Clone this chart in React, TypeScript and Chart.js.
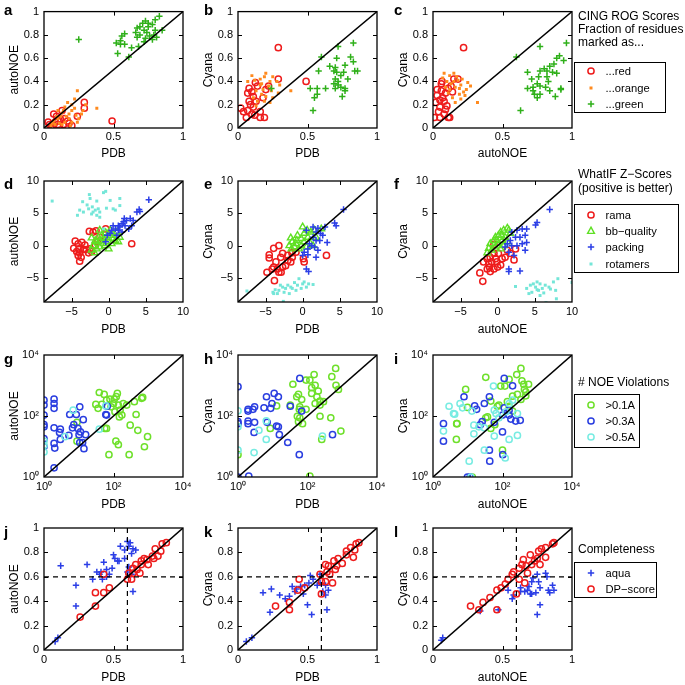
import React, { useEffect, useRef } from "react";
import { Chart, registerables } from "chart.js";
Chart.register(...registerables);

const FONT = '"Liberation Sans", Arial, Helvetica, sans-serif';
Chart.defaults.font.family = FONT;

type Pt = [number, number];

// ---------- colours ----------
const RED = "#ee1c1c";
const ORANGE = "#ff8a1e";
const GREEN = "#2fb01a";
const LIME = "#5fe024";
const BLUE = "#2b3ee6";
const CYAN = "#74e6d8";

// ---------- axis ranges / ticks ----------
const UNIT_RANGE: Pt = [0, 1];
const Z_RANGE: Pt = [-8.7, 10];
const LOG_RANGE: Pt = [1, 10000];
const UNIT_TICKS_X = [0, 0.5, 1];
const UNIT_TICKS_Y = [0, 0.2, 0.4, 0.6, 0.8, 1];
const Z_TICKS = [-5, 0, 5, 10];
const LOG_TICKS = [1, 100, 10000];
const COMPLETENESS_CUTOFF = 0.6;

// ---------- row 1: CING ROG scores ----------
const aRed: Pt[] = [[0.49,0.06],[0.29,0.22],[0.29,0.17],[0.24,0.10],[0.18,0.04],[0.13,0.15],[0.10,0.03],[0.06,0.02],[0.03,0.05],[0.08,0.05],[0.12,0.07],[0.05,0.00],[0.15,0.08],[0.20,0.02],[0.09,0.10],[0.07,0.12],[0.10,0.06],[0.14,0.03],[0.11,0.01],[0.04,0.03],[0.17,0.06]];
const aOrange: Pt[] = [[0.24,0.32],[0.38,0.17],[0.30,0.20],[0.20,0.20],[0.22,0.17],[0.15,0.18],[0.18,0.12],[0.12,0.10],[0.10,0.08],[0.25,0.08],[0.15,0.05],[0.20,0.05],[0.08,0.03],[0.05,0.02],[0.13,0.13],[0.17,0.22],[0.27,0.12],[0.10,0.15],[0.07,0.06],[0.22,0.25],[0.13,0.03],[0.18,0.08],[0.20,0.15],[0.16,0.10],[0.28,0.15],[0.11,0.04],[0.23,0.11],[0.09,0.10],[0.14,0.15],[0.19,0.02],[0.24,0.05],[0.06,0.04]];
const aGreen: Pt[] = [[0.83,0.96],[0.80,0.93],[0.73,0.92],[0.75,0.90],[0.78,0.89],[0.71,0.90],[0.67,0.86],[0.69,0.87],[0.75,0.87],[0.72,0.84],[0.74,0.82],[0.80,0.84],[0.85,0.84],[0.66,0.82],[0.58,0.81],[0.69,0.80],[0.76,0.79],[0.81,0.78],[0.78,0.76],[0.73,0.77],[0.67,0.78],[0.56,0.79],[0.55,0.75],[0.52,0.73],[0.55,0.72],[0.58,0.72],[0.63,0.69],[0.68,0.70],[0.53,0.64],[0.61,0.61],[0.25,0.76],[0.72,0.74],[0.79,0.80]];

const bRed: Pt[] = [[0.29,0.69],[0.29,0.42],[0.49,0.40],[0.125,0.39],[0.02,0.17],[0.06,0.09],[0.16,0.09],[0.19,0.09],[0.16,0.14],[0.08,0.23],[0.10,0.31],[0.18,0.26],[0.11,0.18],[0.07,0.30],[0.13,0.23],[0.10,0.12],[0.07,0.15],[0.20,0.33],[0.11,0.27],[0.09,0.20],[0.22,0.36],[0.04,0.14],[0.14,0.36],[0.12,0.11],[0.08,0.34]];
const bOrange: Pt[] = [[0.10,0.45],[0.20,0.47],[0.19,0.44],[0.23,0.40],[0.28,0.40],[0.38,0.32],[0.25,0.26],[0.23,0.22],[0.29,0.30],[0.16,0.37],[0.18,0.33],[0.13,0.32],[0.17,0.29],[0.20,0.27],[0.12,0.41],[0.25,0.44],[0.14,0.23],[0.07,0.40],[0.30,0.37],[0.22,0.36],[0.16,0.42],[0.11,0.26],[0.19,0.23],[0.24,0.32],[0.17,0.38],[0.13,0.19]];
const bGreen: Pt[] = [[0.83,0.73],[0.72,0.70],[0.60,0.61],[0.81,0.61],[0.71,0.60],[0.83,0.57],[0.66,0.53],[0.77,0.54],[0.70,0.52],[0.58,0.49],[0.69,0.49],[0.71,0.48],[0.76,0.48],[0.84,0.49],[0.86,0.49],[0.74,0.45],[0.70,0.42],[0.72,0.40],[0.79,0.42],[0.72,0.37],[0.74,0.35],[0.52,0.34],[0.57,0.34],[0.63,0.34],[0.70,0.34],[0.77,0.34],[0.57,0.29],[0.55,0.26],[0.77,0.32],[0.75,0.27],[0.54,0.15],[0.24,0.34],[0.69,0.38]];

const cRed: Pt[] = [[0.22,0.69],[0.065,0.40],[0.06,0.32],[0.05,0.18],[0.01,0.09],[0.05,0.09],[0.12,0.09],[0.08,0.23],[0.15,0.42],[0.18,0.42],[0.11,0.34],[0.11,0.09],[0.06,0.38],[0.03,0.28],[0.04,0.14],[0.09,0.30],[0.02,0.22],[0.07,0.26],[0.13,0.36],[0.10,0.19],[0.05,0.24],[0.08,0.12],[0.14,0.31],[0.03,0.33],[0.09,0.16]];
const cOrange: Pt[] = [[0.32,0.22],[0.22,0.31],[0.24,0.33],[0.20,0.37],[0.15,0.47],[0.08,0.47],[0.18,0.41],[0.12,0.45],[0.10,0.40],[0.16,0.35],[0.19,0.29],[0.14,0.26],[0.21,0.42],[0.25,0.39],[0.11,0.30],[0.17,0.44],[0.13,0.38],[0.23,0.28],[0.09,0.35],[0.16,0.22],[0.19,0.34],[0.12,0.33],[0.27,0.36],[0.07,0.43],[0.20,0.25],[0.15,0.40]];
const cGreen: Pt[] = [[0.96,0.73],[0.91,0.62],[0.89,0.60],[0.94,0.58],[0.60,0.61],[0.77,0.70],[0.84,0.53],[0.87,0.55],[0.68,0.48],[0.77,0.49],[0.80,0.51],[0.82,0.49],[0.86,0.48],[0.89,0.47],[0.71,0.42],[0.76,0.44],[0.82,0.44],[0.75,0.38],[0.77,0.36],[0.68,0.34],[0.72,0.35],[0.81,0.35],[0.84,0.32],[0.92,0.34],[0.92,0.33],[0.75,0.26],[0.73,0.29],[0.88,0.27],[0.63,0.15],[0.72,0.32],[0.77,0.29],[0.83,0.40]];

// ---------- row 2: WhatIF Z-scores ----------
const dRama: Pt[] = [[-4.5,0.7],[-4.7,-0.4],[-4.0,-0.5],[-3.9,-1.1],[-3.7,-1.8],[-3.9,-2.4],[-4.1,-1.5],[-3.4,-0.6],[-3.0,-0.6],[-2.5,-0.5],[-2.6,2.2],[-1.7,2.3],[-2.1,2.1],[-3.2,0.1],[-1.2,1.3],[-0.4,2.6],[-1.8,0.1],[-4.1,0.3],[-3.6,0.5],[-2.7,-1.1],[-4.3,-0.9],[-2.3,-0.9],[-1.5,0.6],[3.1,0.3]];
const dBB: Pt[] = [[-2.3,-0.7],[-2.1,0],[-1.6,0.6],[-1.2,0.8],[-0.7,1.1],[-0.3,1.3],[0.2,1.6],[0.6,1.9],[1.1,2.1],[0.9,0.8],[1.3,0.6],[0.4,0.3],[-1.2,-0.2],[-0.5,0],[0,-0.5],[-1.6,-0.5],[-1.8,0.8],[-0.9,1.6],[-1.4,1.3],[-0.3,0.6],[-0.7,0.3],[-1.9,-1.1],[0.6,1.1],[-2.3,1.2],[0.2,2.4],[-1.2,2.4],[-0.4,2.0],[1.5,1.3]];
const dPack: Pt[] = [[5.4,7.1],[4.1,5.6],[4.2,5.3],[3.8,5.2],[2.9,4.2],[2.4,3.9],[2.0,3.7],[1.8,3.4],[2.2,3.1],[1.3,3.1],[0.6,3.1],[0.9,2.6],[1.3,2.4],[0.4,2.4],[2.7,2.6],[3.1,3.1],[1.8,2.1],[1.1,1.6],[-0.4,0.6],[-0.2,1.6],[1.5,2.9],[0.2,1.9],[3.3,3.9],[2.1,4.2]];
const dRot: Pt[] = [[-7.6,6.9],[-0.4,8.4],[-0.7,8.2],[-2.6,7.9],[-3.5,6.8],[-2.5,7.3],[-1.6,6.9],[-2.9,6.3],[-2.2,6.0],[-1.8,5.5],[-1.4,5.7],[-1.2,5.2],[-2.3,4.9],[-1.6,4.7],[-4.2,4.7],[-3.4,5.2],[-0.3,5.8],[0.6,5.7],[1.5,7.3],[1.5,6.2],[0.9,5.5],[0.2,7.0],[-2.7,5.7],[-1.2,4.4],[-0.7,2.6],[-2.1,5.2],[-3.9,5.5]];

const eRama: Pt[] = [[-3.2,0],[-3.9,-0.4],[-4.5,-1.4],[-4.5,-1.9],[-4.8,-4.1],[-3.9,-3.3],[-3.2,-4.1],[-2.9,-4.1],[-3.8,-5.4],[-3.6,-2.5],[-2.95,-1.8],[-2.7,-1.2],[-2.0,-2.3],[-1.6,-2.5],[-1.4,-1.8],[-2.3,-3.1],[-2.0,-1.5],[-1.45,-1.1],[0.1,-2.0],[0.2,-2.5],[3.2,-1.5],[-3.4,-3.6],[-2.7,-3.3],[-4.1,-3.6],[-0.9,-1.0]];
const eBB: Pt[] = [[0,2.9],[-1.6,1.2],[-1.4,0.6],[-1.8,0],[-0.9,0.3],[-0.2,1.1],[0.2,0.6],[0.7,1.3],[1.1,2.1],[1.6,2.4],[2.5,2.6],[0.5,-0.2],[-0.5,-0.5],[-1.1,-0.2],[-0.7,1.6],[0.2,1.9],[0.9,0.6],[-0.2,0],[-0.8,0.8],[-1.5,-0.5],[0.6,2.4],[1.4,0],[1.8,1.3]];
const ePack: Pt[] = [[5.5,5.6],[4.3,3.5],[4.5,3.1],[3.0,2.9],[2.05,2.7],[0.5,2.4],[1.8,2.1],[2.4,1.9],[1.4,1.3],[1.8,0.8],[2.3,0.8],[3.3,0.5],[0.9,0.3],[1.2,0],[1.6,-0.2],[0.7,-0.5],[0.2,-1.0],[2.05,-0.7],[1.8,-1.8],[0.7,-1.4],[0.5,-3.6],[0.8,-4.0],[0,-1.5],[2.7,1.6],[1.4,2.9]];
const eRot: Pt[] = [[-7.5,-7.0],[-4.0,-7.2],[-3.7,-6.8],[-3.2,-6.9],[-2.7,-6.4],[-2.3,-6.6],[-2.0,-6.1],[-1.6,-6.4],[-2.5,-7.2],[-1.1,-5.7],[-0.5,-5.1],[0.2,-5.6],[0.8,-5.9],[1.4,-6.0],[0.5,-6.4],[-0.2,-6.6],[-0.9,-6.9],[-1.8,-7.4],[-2.6,-8.6],[-3.4,-7.4],[-0.7,-6.1],[-1.4,-6.6],[-3.0,-6.1],[-3.9,-7.4],[0,-5.9]];

const fRama: Pt[] = [[-2.0,-5.5],[-2.4,-4.2],[-1.4,-3.6],[-1.0,-4.0],[-0.5,-3.6],[0,-3.3],[-1.2,-2.8],[-0.8,-2.5],[-0.1,-2.5],[0.4,-3.0],[-0.3,-2.0],[-1.0,-1.8],[-0.5,-1.2],[0.1,-1.2],[0.6,-2.0],[1.0,-1.8],[1.7,-1.2],[2.2,-2.2],[2.4,-0.5],[1.3,-0.7],[-0.5,0.2],[-1.4,-2.0],[-1.9,-2.5],[-1.1,-3.3]];
const fBB: Pt[] = [[1.3,2.7],[1.5,2.4],[0.8,2.4],[0.4,2.1],[0.1,1.6],[-0.3,1.3],[-0.5,0.8],[-1.0,0.3],[-1.2,-0.4],[-0.3,-0.2],[0.1,0.3],[0.6,0.8],[1.0,1.3],[1.7,1.9],[0.4,-0.5],[-0.1,0.8],[-0.8,-0.7],[0.8,0],[1.3,0.6],[-1.4,-1.1],[0.5,1.6]];
const fPack: Pt[] = [[7.0,5.6],[5.3,3.6],[5.1,3.2],[3.9,2.6],[3.3,2.6],[2.6,2.4],[3.7,1.6],[3.0,1.3],[2.4,1.3],[1.7,0.8],[1.3,0.3],[1.9,0],[2.6,0],[3.3,0.3],[3.7,-0.7],[1.5,-1.0],[1.0,-0.2],[1.5,-3.6],[1.5,-4.0],[3.0,-3.9],[2.2,-1.5],[1.9,2.1],[3.9,0.5]];
const fRot: Pt[] = [[10,-5.7],[8.1,-5.1],[7.5,-5.6],[6.5,-8.8],[2.4,-6.3],[3.9,-6.6],[4.4,-6.1],[4.8,-5.9],[5.3,-5.6],[5.7,-5.9],[5.1,-6.4],[5.5,-6.9],[6.0,-6.6],[6.4,-6.1],[6.9,-6.4],[7.8,-6.9],[7.9,-8.2],[4.6,-7.2],[4.2,-7.4],[6.2,-7.3],[7.1,-6.7],[5.7,-7.7],[5.3,-6.8]];

// ---------- row 3: NOE violations (counts) ----------
const gV01: Pt[] = [[39,590],[54,510],[129,550],[120,430],[105,355],[79,355],[63,331],[31,240],[46,240],[100,257],[138,229],[191,257],[240,229],[398,295],[646,380],[692,407],[155,155],[110,138],[174,107],[447,112],[148,93],[63,39],[56,39],[8.9,62],[8.9,15],[302,50],[501,34],[955,21],[776,9.8],[117,15],[138,11.5],[74,5.4],[282,5.4],[36,178],[85,200]];
const gV03: Pt[] = [[1,331],[1,229],[1,107],[1,52],[1,44],[1,18],[1,10],[1.95,355],[1.95,257],[1.95,178],[1.95,41],[1.95,12.6],[2.04,8.9],[1.95,2.0],[2.95,37],[2.8,29],[2.95,17],[5.5,112],[6.6,41],[7.2,52],[8.5,112],[10.7,200],[9.5,39],[10.2,24.5],[11.2,30],[13.5,76],[15.8,24.5],[14.1,8.5],[10.7,13.5],[5.2,23],[66,209],[63,107],[60,112],[12.9,13.5]];
const gV05: Pt[] = [[1,15],[1,6.6],[6.9,155],[4.0,21],[39,37],[60,214],[1,11]];

const hV01: Pt[] = [[1,5.4],[12.9,214],[32,229],[38,1100],[49,427],[55,513],[68,347],[58,166],[60,200],[91,1510],[117,1510],[155,2290],[166,1020],[204,660],[132,851],[132,550],[186,427],[229,309],[288,295],[166,257],[229,229],[91,166],[51,98],[60,87],[72,56],[55,65],[229,98],[468,87],[501,1950],[646,3630],[661,1020],[776,741],[912,32],[257,17],[117,1.07],[8.5,39]];
const hV03: Pt[] = [[1,912],[1,65],[1,56],[1,1],[2.04,1.07],[1.95,166],[1.95,145],[2.7,166],[3.0,200],[1.95,68],[1.95,56],[3.0,62],[2.9,29],[5.6,186],[6.6,427],[8.7,178],[9.5,257],[11,550],[14.5,427],[6.9,62],[12.9,47],[14.5,44],[15.5,24.5],[27,13.5],[32,209],[60,1700],[68,145],[58,5.4],[525,24.5]];
const hV05: Pt[] = [[1,148],[1,44],[1,7.6],[2.9,6.3],[4.0,34],[6.5,17],[6.5,69],[269,22]];

const iV01: Pt[] = [[339,3630],[257,2290],[33,1860],[155,1580],[363,1410],[407,1100],[562,1100],[8.7,741],[89,955],[117,955],[427,741],[468,617],[269,513],[195,447],[339,347],[138,295],[79,229],[71,209],[9.8,191],[46,309],[155,209],[195,145],[37,93],[33,87],[4.8,56],[46,39],[60,52],[100,7.6],[4.7,17],[13.5,1],[468,457],[4.9,56]];
const iV03: Pt[] = [[112,1700],[195,977],[7.8,427],[42,427],[15.8,214],[30,257],[18,166],[112,186],[100,107],[155,107],[324,72],[240,68],[26,65],[23,52],[100,30],[174,79],[42,7.6],[43,3.3],[102,5.4],[2.0,56],[2.0,15],[9.8,1],[11.7,1],[58,62],[155,155]];
const iV05: Pt[] = [[55,955],[2.9,209],[6.0,257],[7.1,186],[3.9,120],[13.2,145],[15,50],[21,44],[30,41],[58,155],[65,120],[79,87],[126,138],[155,257],[195,331],[269,23],[155,17],[58,22],[30,7.6],[11,3.3],[120,4.2],[2.0,32],[15,26],[12.3,1],[269,120],[4.2,115]];

// ---------- row 4: completeness ----------
const jAqua: Pt[] = [[0.12,0.69],[0.23,0.53],[0.31,0.70],[0.23,0.36],[0.08,0.07],[0.10,0.10],[0.35,0.58],[0.40,0.62],[0.43,0.72],[0.45,0.60],[0.42,0.58],[0.45,0.66],[0.49,0.67],[0.50,0.78],[0.51,0.75],[0.53,0.73],[0.55,0.85],[0.58,0.82],[0.60,0.89],[0.62,0.88],[0.64,0.83],[0.66,0.82],[0.63,0.79],[0.61,0.68],[0.60,0.64],[0.63,0.62],[0.64,0.48],[0.58,0.75],[0.54,0.73],[0.47,0.62],[0.41,0.64],[0.38,0.64],[0.61,0.85]];
const jDP: Pt[] = [[0.26,0.27],[0.37,0.36],[0.37,0.47],[0.43,0.47],[0.47,0.51],[0.43,0.62],[0.60,0.58],[0.63,0.58],[0.61,0.63],[0.64,0.67],[0.66,0.70],[0.69,0.63],[0.70,0.70],[0.72,0.75],[0.70,0.73],[0.75,0.70],[0.78,0.77],[0.80,0.83],[0.84,0.81],[0.85,0.87],[0.88,0.88],[0.82,0.77],[0.79,0.75],[0.74,0.74],[0.67,0.66],[0.64,0.63]];
const kAqua: Pt[] = [[0.06,0.07],[0.10,0.10],[0.18,0.47],[0.23,0.31],[0.24,0.50],[0.30,0.45],[0.34,0.42],[0.37,0.44],[0.39,0.52],[0.41,0.48],[0.42,0.50],[0.45,0.52],[0.47,0.46],[0.50,0.37],[0.53,0.29],[0.48,0.53],[0.52,0.61],[0.54,0.58],[0.57,0.53],[0.59,0.55],[0.59,0.62],[0.63,0.53],[0.61,0.48],[0.63,0.45],[0.64,0.33],[0.65,0.49],[0.51,0.55]];
const kDP: Pt[] = [[0.27,0.36],[0.37,0.39],[0.37,0.33],[0.43,0.49],[0.44,0.58],[0.48,0.51],[0.59,0.62],[0.60,0.46],[0.60,0.56],[0.63,0.56],[0.63,0.70],[0.68,0.55],[0.65,0.69],[0.69,0.73],[0.71,0.69],[0.72,0.75],[0.75,0.71],[0.78,0.78],[0.78,0.81],[0.81,0.84],[0.83,0.76],[0.84,0.82],[0.85,0.87],[0.87,0.88],[0.64,0.64],[0.70,0.66],[0.66,0.62]];
const lAqua: Pt[] = [[0.34,0.32],[0.47,0.33],[0.54,0.49],[0.57,0.42],[0.58,0.45],[0.63,0.51],[0.66,0.48],[0.68,0.49],[0.69,0.52],[0.71,0.56],[0.72,0.59],[0.75,0.62],[0.76,0.56],[0.77,0.51],[0.74,0.47],[0.71,0.46],[0.77,0.37],[0.75,0.29],[0.81,0.63],[0.82,0.60],[0.83,0.49],[0.84,0.47],[0.86,0.53],[0.87,0.49],[0.70,0.46],[0.63,0.48],[0.06,0.08],[0.07,0.10]];
const lDP: Pt[] = [[0.27,0.36],[0.36,0.39],[0.33,0.33],[0.41,0.43],[0.46,0.49],[0.46,0.33],[0.49,0.51],[0.52,0.54],[0.54,0.58],[0.57,0.62],[0.60,0.46],[0.62,0.58],[0.62,0.67],[0.64,0.70],[0.66,0.55],[0.68,0.63],[0.67,0.69],[0.70,0.78],[0.71,0.70],[0.73,0.73],[0.75,0.75],[0.76,0.81],[0.78,0.83],[0.81,0.84],[0.81,0.76],[0.77,0.70],[0.86,0.87],[0.87,0.88],[0.58,0.64],[0.65,0.74]];

// ---------- marker styles ----------
type Shape = "circle" | "square" | "plus" | "triangle";
type Style = { shape: Shape; color: string; label: string };
const ROG_RED: Style = { shape: "circle", color: RED, label: "...red" };
const ROG_ORANGE: Style = { shape: "square", color: ORANGE, label: "...orange" };
const ROG_GREEN: Style = { shape: "plus", color: GREEN, label: "...green" };
const Z_RAMA: Style = { shape: "circle", color: RED, label: "rama" };
const Z_BB: Style = { shape: "triangle", color: LIME, label: "bb\u2212quality" };
const Z_PACK: Style = { shape: "plus", color: BLUE, label: "packing" };
const Z_ROT: Style = { shape: "square", color: CYAN, label: "rotamers" };
const V01: Style = { shape: "circle", color: "#6ee02a", label: ">0.1A" };
const V03: Style = { shape: "circle", color: "#2a3ee0", label: ">0.3A" };
const V05: Style = { shape: "circle", color: "#78ece2", label: ">0.5A" };
const C_AQUA: Style = { shape: "plus", color: BLUE, label: "aqua" };
const C_DP: Style = { shape: "circle", color: RED, label: "DP\u2212score" };

type Kind = "unit" | "z" | "log" | "comp";
type Spec = { id: string; row: number; col: number; xl: string; yl: string; kind: Kind; series: [Pt[], Style][] };

const PANELS: Spec[] = [
  { id: "a", row: 0, col: 0, xl: "PDB", yl: "autoNOE", kind: "unit", series: [[aRed, ROG_RED], [aOrange, ROG_ORANGE], [aGreen, ROG_GREEN]] },
  { id: "b", row: 0, col: 1, xl: "PDB", yl: "Cyana", kind: "unit", series: [[bRed, ROG_RED], [bOrange, ROG_ORANGE], [bGreen, ROG_GREEN]] },
  { id: "c", row: 0, col: 2, xl: "autoNOE", yl: "Cyana", kind: "unit", series: [[cRed, ROG_RED], [cOrange, ROG_ORANGE], [cGreen, ROG_GREEN]] },
  { id: "d", row: 1, col: 0, xl: "PDB", yl: "autoNOE", kind: "z", series: [[dRama, Z_RAMA], [dBB, Z_BB], [dPack, Z_PACK], [dRot, Z_ROT]] },
  { id: "e", row: 1, col: 1, xl: "PDB", yl: "Cyana", kind: "z", series: [[eRama, Z_RAMA], [eBB, Z_BB], [ePack, Z_PACK], [eRot, Z_ROT]] },
  { id: "f", row: 1, col: 2, xl: "autoNOE", yl: "Cyana", kind: "z", series: [[fRama, Z_RAMA], [fBB, Z_BB], [fPack, Z_PACK], [fRot, Z_ROT]] },
  { id: "g", row: 2, col: 0, xl: "PDB", yl: "autoNOE", kind: "log", series: [[gV01, V01], [gV03, V03], [gV05, V05]] },
  { id: "h", row: 2, col: 1, xl: "PDB", yl: "Cyana", kind: "log", series: [[hV01, V01], [hV03, V03], [hV05, V05]] },
  { id: "i", row: 2, col: 2, xl: "autoNOE", yl: "Cyana", kind: "log", series: [[iV01, V01], [iV03, V03], [iV05, V05]] },
  { id: "j", row: 3, col: 0, xl: "PDB", yl: "autoNOE", kind: "comp", series: [[jAqua, C_AQUA], [jDP, C_DP]] },
  { id: "k", row: 3, col: 1, xl: "PDB", yl: "Cyana", kind: "comp", series: [[kAqua, C_AQUA], [kDP, C_DP]] },
  { id: "l", row: 3, col: 2, xl: "autoNOE", yl: "Cyana", kind: "comp", series: [[lAqua, C_AQUA], [lDP, C_DP]] },
];

// ---------- layout (pixels) ----------
const W = 685;
const COLS: [number, number][] = [[44, 183], [238, 377], [433, 572]];
const ROWS: [number, number][] = [[7, 128], [181, 302], [355, 477], [528, 650]];
const YW = 38;
const XH = 34;
const X_TICK_PAD = [2, 3.3, 3.3, 3.3];
const X_TITLE_GAP = [25.5, 28, 28, 27.5];

const SUP: Record<number, string> = { 0: "\u2070", 2: "\u00b2", 4: "\u2074" };
const fmtUnit = (v: number) => String(+v.toFixed(1));
const fmtZ = (v: number) => (v < 0 ? "\u2212" + -v : String(v));
const fmtLog = (v: number) => "10" + SUP[Math.round(Math.log10(v))];

const boxPlugin = {
  id: "matlabBox",
  afterDatasetsDraw(chart: any) {
    const { ctx, chartArea } = chart;
    const { left, top, right, bottom } = chartArea;
    const xs = chart.scales.x;
    const ys = chart.scales.y;
    const tl = 4;
    ctx.save();
    ctx.strokeStyle = "#000";
    ctx.lineWidth = 1;
    ctx.beginPath();
    xs.ticks.forEach((t: any) => {
      const p = Math.round(xs.getPixelForValue(t.value)) + 0.5;
      if (p <= left + 2 || p >= right - 2) return;
      ctx.moveTo(p, bottom); ctx.lineTo(p, bottom - tl);
      ctx.moveTo(p, top); ctx.lineTo(p, top + tl);
    });
    ys.ticks.forEach((t: any) => {
      const p = Math.round(ys.getPixelForValue(t.value)) + 0.5;
      if (p <= top + 2 || p >= bottom - 2) return;
      ctx.moveTo(left, p); ctx.lineTo(left + tl, p);
      ctx.moveTo(right, p); ctx.lineTo(right - tl, p);
    });
    ctx.stroke();
    ctx.lineWidth = 1.3;
    ctx.strokeRect(left, top, right - left, bottom - top);
    ctx.restore();
  },
};

function seriesDataset(points: Pt[], st: Style, order: number) {
  const base: any = {
    data: points.map(([x, y]) => ({ x, y })),
    order,
    showLine: false,
    pointBorderColor: st.color,
  };
  if (st.shape === "circle") return { ...base, pointStyle: "circle", pointRadius: 3.1, pointBorderWidth: 1.5, pointBackgroundColor: "rgba(0,0,0,0)" };
  if (st.shape === "square") return { ...base, pointStyle: "rect", pointRadius: 2.1, pointBorderWidth: 0, pointBackgroundColor: st.color };
  if (st.shape === "plus") return { ...base, pointStyle: "cross", pointRadius: 3.2, pointBorderWidth: 1.5, pointBackgroundColor: st.color };
  return { ...base, pointStyle: "triangle", pointRadius: 3.8, pointBorderWidth: 1.4, pointBackgroundColor: "rgba(0,0,0,0)" };
}

function lineDataset(pts: Pt[], dashed: boolean) {
  return {
    data: pts.map(([x, y]) => ({ x, y })),
    order: 0,
    showLine: true,
    pointRadius: 0,
    borderColor: "#000",
    borderWidth: dashed ? 1.2 : 1.5,
    borderDash: dashed ? [5, 4] : [],
    fill: false,
    tension: 0,
  };
}

function buildConfig(spec: Spec): any {
  const [L, R] = COLS[spec.col];
  const [T, B] = ROWS[spec.row];
  const range = spec.kind === "z" ? Z_RANGE : spec.kind === "log" ? LOG_RANGE : UNIT_RANGE;
  const xt = spec.kind === "z" ? Z_TICKS : spec.kind === "log" ? LOG_TICKS : UNIT_TICKS_X;
  const yt = spec.kind === "z" ? Z_TICKS : spec.kind === "log" ? LOG_TICKS : UNIT_TICKS_Y;
  const fmt = spec.kind === "z" ? fmtZ : spec.kind === "log" ? fmtLog : fmtUnit;
  const type = spec.kind === "log" ? "logarithmic" : "linear";
  const n = spec.series.length;
  const datasets: any[] = spec.series.map(([pts, st], i) => seriesDataset(pts, st, n - i));
  datasets.push(lineDataset([[range[0], range[0]], [range[1], range[1]]], false));
  if (spec.kind === "comp") {
    datasets.push(lineDataset([[COMPLETENESS_CUTOFF, UNIT_RANGE[0]], [COMPLETENESS_CUTOFF, UNIT_RANGE[1]]], true));
    datasets.push(lineDataset([[UNIT_RANGE[0], COMPLETENESS_CUTOFF], [UNIT_RANGE[1], COMPLETENESS_CUTOFF]], true));
  }
  const tickFont = { size: 11, family: FONT };
  const titleFont = { size: 12, family: FONT };
  const grid = { display: false, drawTicks: false, tickLength: 0 };
  const xTitlePad = XH - 7.2 - X_TITLE_GAP[spec.row];
  return {
    type: "scatter",
    data: { datasets },
    plugins: [boxPlugin],
    options: {
      responsive: false,
      animation: false,
      events: [],
      layout: { padding: { left: L - YW, top: T, right: W - R, bottom: W - B - XH } },
      plugins: { legend: { display: false }, tooltip: { enabled: false } },
      scales: {
        x: {
          type, min: range[0], max: range[1],
          grid, border: { display: false },
          afterFit: (s: any) => { s.height = XH; },
          afterBuildTicks: (s: any) => { s.ticks = xt.map((v) => ({ value: v })); },
          ticks: { padding: X_TICK_PAD[spec.row], color: "#000", font: tickFont, autoSkip: false, maxRotation: 0, minRotation: 0, callback: (v: any) => fmt(Number(v)) },
          title: { display: true, text: spec.xl, color: "#000", font: titleFont, padding: { top: 0, bottom: xTitlePad } },
        },
        y: {
          type, min: range[0], max: range[1],
          grid, border: { display: false },
          afterFit: (s: any) => { s.width = YW; },
          afterBuildTicks: (s: any) => { s.ticks = yt.map((v) => ({ value: v })); },
          ticks: { padding: 5, color: "#000", font: tickFont, autoSkip: false, callback: (v: any) => fmt(Number(v)) },
          title: { display: true, text: spec.yl, color: "#000", font: titleFont, padding: { top: 1, bottom: 0 } },
        },
      },
    },
  };
}

function Panel({ spec }: { spec: Spec }) {
  const ref = useRef<HTMLCanvasElement>(null);
  useEffect(() => {
    const chart = new Chart(ref.current as HTMLCanvasElement, buildConfig(spec));
    return () => chart.destroy();
  }, [spec]);
  return <canvas ref={ref} width={W} height={W} style={{ position: "absolute", left: 0, top: 0, width: W, height: W }} />;
}

function Marker({ st }: { st: Style }) {
  const c = st.color;
  let el: any;
  if (st.shape === "circle") el = <circle cx={6} cy={6} r={3.1} stroke={c} strokeWidth={1.5} fill="none" />;
  else if (st.shape === "square") el = <rect x={4.5} y={4.5} width={3} height={3} fill={c} />;
  else if (st.shape === "plus") el = <path d="M6 2.8V9.2M2.8 6H9.2" stroke={c} strokeWidth={1.5} />;
  else el = <path d="M6 2.2L9.4 8.4H2.6Z" stroke={c} strokeWidth={1.4} fill="none" />;
  return <svg width={12} height={12} style={{ position: "absolute", left: -6, top: -6 }}>{el}</svg>;
}

function Txt({ x, cy, children, size = 12, bold = false }: any) {
  return (
    <div style={{ position: "absolute", left: x, top: cy - 7, fontSize: size, lineHeight: "14px", fontWeight: bold ? "bold" : "normal", whiteSpace: "nowrap" }}>
      {children}
    </div>
  );
}

type LegendSpec = { titles: string[]; titleY: number[]; box: [number, number, number, number]; items: Style[]; itemY: number[] };
const LEGENDS: LegendSpec[] = [
  { titles: ["CING ROG Scores", "Fraction of residues", "marked as..."], titleY: [16, 29, 42], box: [574, 62, 92, 51], items: [ROG_RED, ROG_ORANGE, ROG_GREEN], itemY: [71, 88, 104] },
  { titles: ["WhatIF Z\u2212Scores", "(positive is better)"], titleY: [174, 188], box: [574, 204, 105, 69], items: [Z_RAMA, Z_BB, Z_PACK, Z_ROT], itemY: [215, 231, 247, 264] },
  { titles: ["# NOE Violations"], titleY: [382], box: [574, 394, 66, 54], items: [V01, V03, V05], itemY: [405, 421, 437] },
  { titles: ["Completeness"], titleY: [549], box: [574, 562, 83, 36], items: [C_AQUA, C_DP], itemY: [573, 589] },
];

function Legend({ lg }: { lg: LegendSpec }) {
  const [bx, by, bw, bh] = lg.box;
  return (
    <>
      {lg.titles.map((t, i) => <Txt key={"t" + i} x={578} cy={lg.titleY[i]}>{t}</Txt>)}
      <div style={{ position: "absolute", left: bx, top: by, width: bw, height: bh, border: "1px solid #000", boxSizing: "border-box", background: "#fff" }} />
      {lg.items.map((st, i) => (
        <React.Fragment key={"i" + i}>
          <div style={{ position: "absolute", left: 591, top: lg.itemY[i], width: 0, height: 0 }}><Marker st={st} /></div>
          <Txt x={605.5} cy={lg.itemY[i]} size={11.2}>{st.label}</Txt>
        </React.Fragment>
      ))}
    </>
  );
}

const LETTER_X = [4, 204, 394];
const LETTER_BASE = [15, 189, 364, 537];

export default function App() {
  return (
    <div style={{ position: "absolute", left: 0, top: 0, width: W, height: W, background: "#fff", overflow: "hidden", fontFamily: FONT, color: "#000" }}>
      {PANELS.map((p) => <Panel key={p.id} spec={p} />)}
      {PANELS.map((p) => (
        <div key={"L" + p.id} style={{ position: "absolute", left: LETTER_X[p.col], top: LETTER_BASE[p.row] - 12.7, fontSize: 15, lineHeight: "15px", fontWeight: "bold" }}>{p.id}</div>
      ))}
      {LEGENDS.map((lg, i) => <Legend key={i} lg={lg} />)}
    </div>
  );
}
